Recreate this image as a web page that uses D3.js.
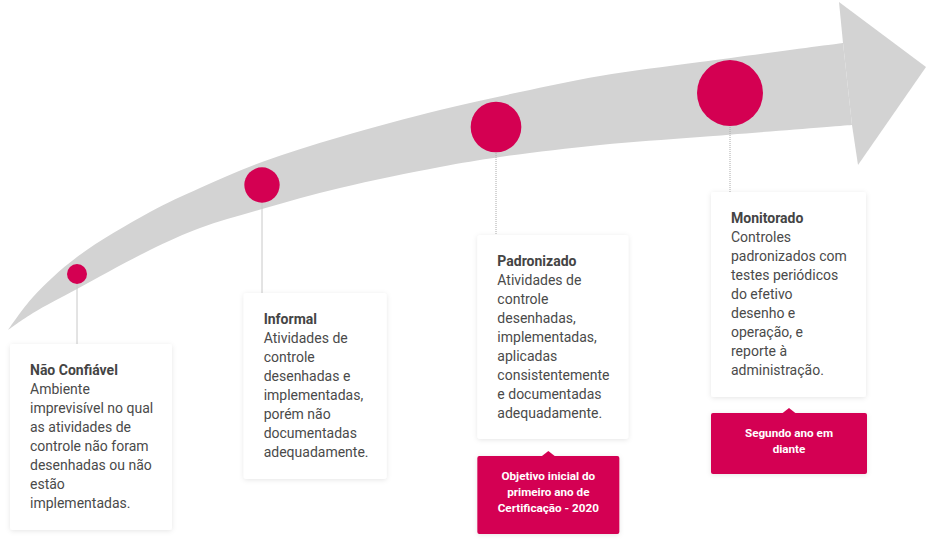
<!DOCTYPE html>
<html>
<head>
<meta charset="utf-8">
<script src="https://cdn.jsdelivr.net/npm/d3@7"></script>
<style>
  body { margin: 0; background: #fff; }
  svg text { font-family: Roboto, "Open Sans", sans-serif; }
</style>
</head>
<body>
<div id="chart"></div>
<script>
var svgWidth = 930;
var svgHeight = 547;

// stage data
var stageTitles = ["Não Confiável", "Informal", "Padronizado", "Monitorado"];
var stageTexts = [
  ["Ambiente", "imprevisível no qual", "as atividades de", "controle não foram", "desenhadas ou não", "estão", "implementadas."],
  ["Atividades de", "controle", "desenhadas e", "implementadas,", "porém não", "documentadas", "adequadamente."],
  ["Atividades de", "controle", "desenhadas,", "implementadas,", "aplicadas", "consistentemente", "e documentadas", "adequadamente."],
  ["Controles", "padronizados com", "testes periódicos", "do efetivo", "desenho e", "operação, e", "reporte à", "administração."]
];
var stageLevels = [1, 2, 3, 4];
var tagTexts = [
  null,
  null,
  ["Objetivo inicial do", "primeiro ano de", "Certificação - 2020"],
  ["Segundo ano em", "diante"]
];

// arrow outline (upper edge from tail, lower edge from head back to tail)
var arrowUpper = [[8, 330], [33, 297], [77, 257], [150, 212], [200, 188], [262, 162], [340, 137], [440, 110], [520, 92], [600, 76], [700, 62], [843, 43]];
var arrowLower = [[852, 125], [700, 137], [600, 145], [500, 157], [440, 167], [340, 188], [262, 209], [200, 228], [150, 250], [77, 289], [33, 313], [8, 330]];
var arrowHead = [[843, 43], [839, 2], [926, 67], [858, 165], [852, 125]];

// layout
var pink = "#d40052";
var grey = "#d3d3d3";
var boxX = d3.scaleLinear().domain([0, 3]).range([10, 711]);
var boxW = [162, 143, 151, 155];
var boxTop = [344, 293, 235, 192];
var boxH = [186, 186, 204, 205];
var circleX = [77, 262, 496, 730];
var circleY = [274, 185, 127, 93];
var radius = d3.scaleLinear().domain([1, 4]).range([10, 33]);
var lineH = 19;

var svg = d3.select("#chart")
  .append("svg")
  .attr("width", svgWidth)
  .attr("height", svgHeight);

var defs = svg.append("defs");
var shadow = defs.append("filter")
  .attr("id", "shadow")
  .attr("x", "-20%").attr("y", "-20%")
  .attr("width", "140%").attr("height", "140%");
shadow.append("feDropShadow")
  .attr("dx", 0).attr("dy", 1)
  .attr("stdDeviation", 2.5)
  .attr("flood-color", "#000")
  .attr("flood-opacity", 0.1);

// arrow body
var curve = d3.line().curve(d3.curveCatmullRom);
var bodyPath = curve(arrowUpper) + curve(arrowLower).replace(/^M/, "L") + "Z";
svg.append("path")
  .attr("d", bodyPath)
  .attr("fill", grey);
svg.append("path")
  .attr("d", d3.line()(arrowHead) + "Z")
  .attr("fill", grey);

// connector lines
svg.selectAll(".connector")
  .data(stageTitles)
  .enter()
  .append("line")
  .attr("class", "connector")
  .attr("x1", (d, i) => circleX[i])
  .attr("x2", (d, i) => circleX[i])
  .attr("y1", (d, i) => circleY[i])
  .attr("y2", (d, i) => boxTop[i])
  .attr("stroke", (d, i) => i < 2 ? "#c8c8c8" : "#aaa")
  .attr("stroke-width", 1)
  .attr("stroke-dasharray", (d, i) => i < 2 ? null : "1,1");

// circles
svg.selectAll(".stage")
  .data(stageLevels)
  .enter()
  .append("circle")
  .attr("class", "stage")
  .attr("cx", (d, i) => circleX[i])
  .attr("cy", (d, i) => circleY[i])
  .attr("r", d => radius(d))
  .attr("fill", pink);

// text boxes
var boxes = svg.selectAll(".box")
  .data(stageTitles)
  .enter()
  .append("g")
  .attr("class", "box")
  .attr("transform", (d, i) => `translate(${boxX(i)}, ${boxTop[i]})`);

boxes.append("rect")
  .attr("width", (d, i) => boxW[i])
  .attr("height", (d, i) => boxH[i])
  .attr("rx", 3)
  .attr("fill", "#fff")
  .attr("filter", "url(#shadow)");

var label = boxes.append("text")
  .attr("x", 20)
  .attr("y", 31)
  .attr("font-size", 14)
  .attr("fill", "#4a4a4a");

label.append("tspan")
  .attr("x", 20)
  .attr("font-weight", "bold")
  .attr("fill", "#444")
  .text(d => d);

label.each(function (d, i) {
  var t = d3.select(this);
  stageTexts[i].forEach(function (line) {
    t.append("tspan")
      .attr("x", 20)
      .attr("dy", lineH)
      .text(line);
  });
});

// pink tags
var tagTop = [0, 0, 456, 413];
var tagH = [0, 0, 78, 61];
var tagW = [0, 0, 142, 156];
var tags = svg.selectAll(".tag")
  .data(tagTexts.map((d, i) => ({ lines: d, i: i })).filter(d => d.lines))
  .enter()
  .append("g")
  .attr("class", "tag")
  .attr("transform", d => `translate(${boxX(d.i)}, ${tagTop[d.i]})`);

tags.append("rect")
  .attr("width", d => tagW[d.i])
  .attr("height", d => tagH[d.i])
  .attr("rx", 2)
  .attr("fill", pink)
  .attr("filter", "url(#shadow)");

tags.append("path")
  .attr("d", d => {
    var cx = tagW[d.i] / 2;
    return `M${cx - 7},0.5 L${cx},-5 L${cx + 7},0.5 Z`;
  })
  .attr("fill", pink);

tags.append("text")
  .attr("text-anchor", "middle")
  .attr("font-size", 11.7)
  .attr("font-weight", "bold")
  .attr("fill", "#fff")
  .each(function (d) {
    var t = d3.select(this);
    var startY = tagH[d.i] / 2 - (d.lines.length - 1) * 8 + 1;
    d.lines.forEach(function (line, k) {
      t.append("tspan")
        .attr("x", tagW[d.i] / 2)
        .attr("y", startY + k * 16)
        .text(line);
    });
  });
</script>
</body>
</html>
